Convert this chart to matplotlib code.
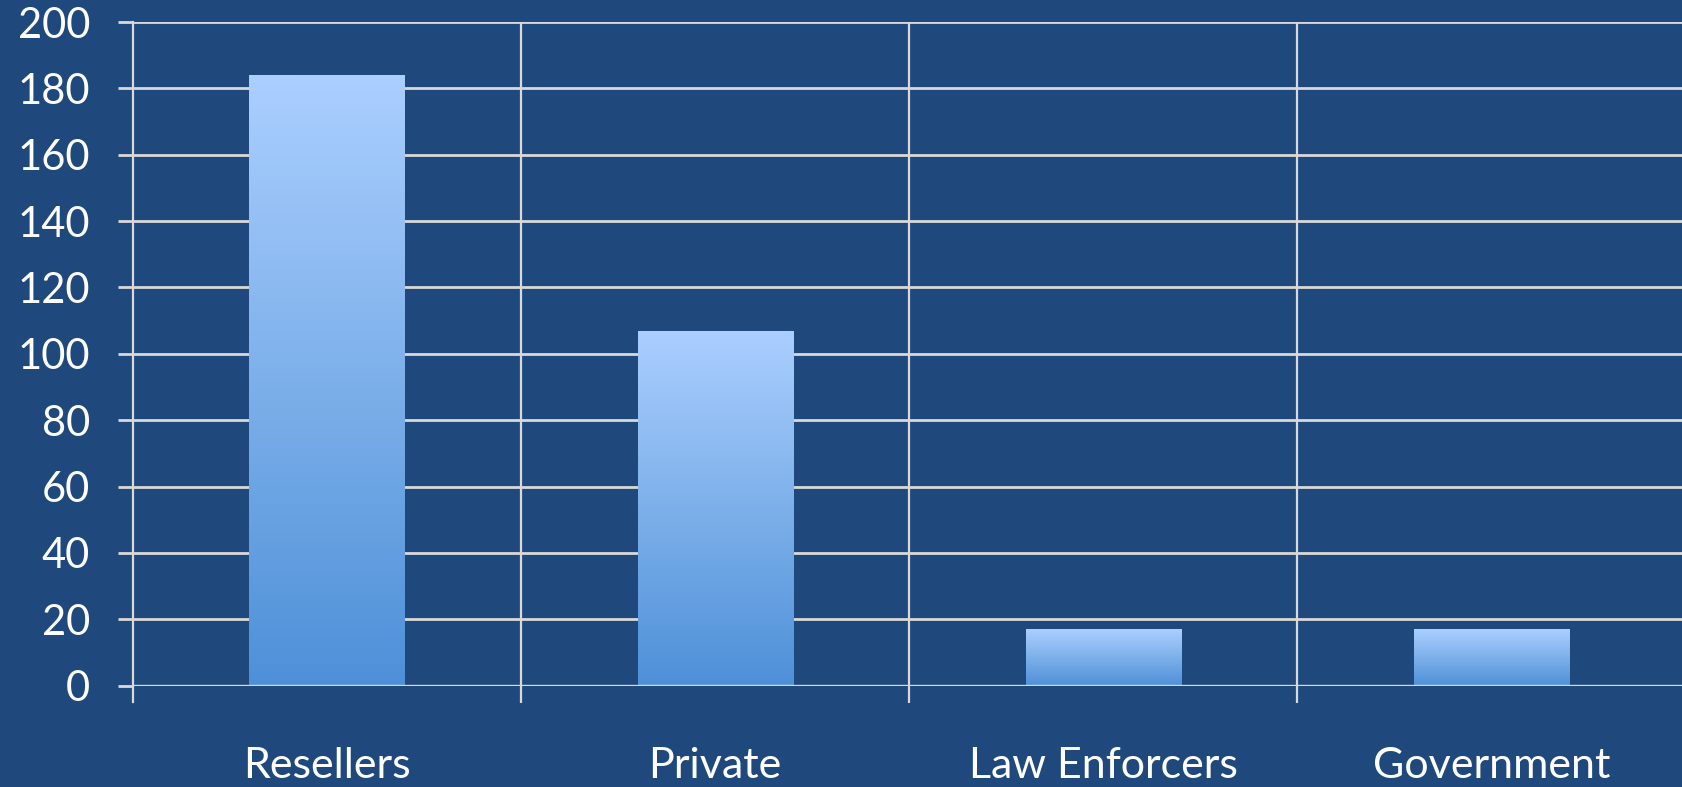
import matplotlib
matplotlib.use("Agg")
import matplotlib.pyplot as plt
import numpy as np
from matplotlib.colors import LinearSegmentedColormap

categories = ["Resellers", "Private", "Law Enforcers", "Government"]
values = [184, 107, 17, 17]
y_ticks = [0, 20, 40, 60, 80, 100, 120, 140, 160, 180, 200]

BG = "#1F497D"
GRID = "#D9D9D9"

plt.rcParams["font.family"] = ["Lato", "DejaVu Sans"]

fig = plt.figure(figsize=(16.82, 7.87), dpi=100)
fig.patch.set_facecolor(BG)
ax = fig.add_axes([0.0791, 0.1288, 0.923, 0.8432])
ax.set_facecolor(BG)

x = np.arange(len(categories))
bars = ax.bar(x, values, width=0.4, color="none", edgecolor="none", zorder=3)

# vertical gradient inside each bar, light at the top, deeper blue at the bottom
cmap = LinearSegmentedColormap.from_list("barfill", ["#4E90D8", "#7DB0EA", "#ABCFFF"])
grad = np.linspace(0, 1, 256).reshape(-1, 1)
for b in bars:
    x0, y0 = b.get_x(), b.get_y()
    w, h = b.get_width(), b.get_height()
    im = ax.imshow(grad, cmap=cmap, origin="lower", aspect="auto",
                   extent=(x0, x0 + w, y0, y0 + h), zorder=3)
    im.set_clip_path(b)

ax.set_xlim(-0.5, len(categories) - 0.5)
ax.set_ylim(0, 200)
ax.set_yticks(y_ticks)
ax.set_xticks(x)
ax.set_xticklabels(categories)
ax.set_xticks(np.arange(len(categories)) + 0.5, minor=True)

ax.grid(axis="y", color=GRID, linewidth=2.0, zorder=1)
ax.grid(axis="x", which="minor", color=GRID, linewidth=1.6, zorder=1)
ax.set_axisbelow(True)

for side in ["top", "right", "bottom"]:
    ax.spines[side].set_visible(False)
ax.spines["left"].set_color(GRID)
ax.spines["left"].set_linewidth(1.6)
ax.axhline(0, color=GRID, linewidth=2.4, zorder=4)

ax.tick_params(axis="y", colors=GRID, length=11, width=2.0, pad=20,
               labelsize=30, labelcolor="white")
ax.tick_params(axis="x", which="major", length=0, pad=44,
               labelsize=31, labelcolor="white")
ax.tick_params(axis="x", which="minor", colors=GRID, length=12, width=1.6)

# left boundary tick below the axis
ax.plot([-0.5, -0.5], [0, -5], color=GRID, linewidth=1.6, clip_on=False)

fig.savefig("out.png", dpi=100, facecolor=BG)
